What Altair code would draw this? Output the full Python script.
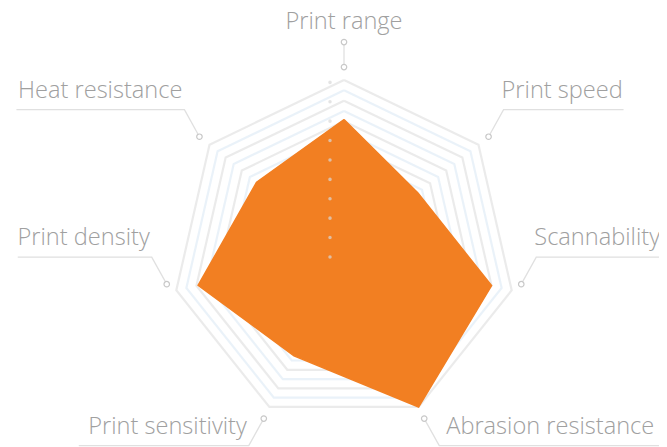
import numpy as np
import pandas as pd
import altair as alt

# ---- data ----
categories = ["Print range", "Print speed", "Scannability", "Abrasion resistance",
              "Print sensitivity", "Print density", "Heat resistance"]
scores = [7.7, 5.5, 8.8, 10.0, 6.7, 8.7, 6.5]
max_score = 10.0
ring_levels = [10.0, 9.4, 8.8, 8.2, 7.6, 7.0, 6.4, 5.8, 5.2, 4.6]

# ---- layout ----
W, H = 651, 439
U = 172.0            # pixels per unit radius
CX, CY = 336.0, 244.0
P = 1.0 / U          # one pixel in data units
xdom = [-CX / U, (W - CX) / U]
ydom = [-(H - CY) / U, CY / U]

ORANGE = "#f27f22"
TEXT = "#a0a0a0"
LEADER = "#e0e0e0"

n = len(categories)
ang = np.deg2rad(90 - np.arange(n) * 360.0 / n)
cosA, sinA = np.cos(ang), np.sin(ang)

# grid rings
rows = []
for k, lvl in enumerate(ring_levels):
    r = lvl / max_score
    for j in range(n + 1):
        rows.append({"ring": k, "grp": "g" if k % 2 == 0 else "b", "o": j,
                     "x": r * cosA[j % n], "y": r * sinA[j % n]})
rings = pd.DataFrame(rows)

# data polygon
poly = pd.DataFrame({
    "o": list(range(n + 1)),
    "x": [scores[j % n] / max_score * cosA[j % n] for j in range(n + 1)],
    "y": [scores[j % n] / max_score * sinA[j % n] for j in range(n + 1)],
})

# label leaders
underline_px = {"Print speed": 120, "Scannability": 140, "Abrasion resistance": 230,
                "Print sensitivity": 170, "Print density": 134, "Heat resistance": 168}
nudge_px = {"Print density": (3, 9), "Scannability": (-3, 9)}
text_gap_px = {"Abrasion resistance": 7}
leader_rows, dot_rows, text_rows = [], [], []
for i, cat in enumerate(categories):
    cx, cy = 1.075 * cosA[i], 1.075 * sinA[i]
    dx, dy = nudge_px.get(cat, (0, 0))
    cx += dx * P
    cy += dy * P
    dot_rows.append({"x": cx, "y": cy})
    if i == 0:
        tx, ty = cx, cy + 25 * P
        dot_rows.append({"x": tx, "y": ty})
        leader_rows += [{"lab": cat, "o": 0, "x": cx, "y": cy},
                        {"lab": cat, "o": 1, "x": tx, "y": ty}]
        text_rows.append({"lab": cat, "x": cx, "y": ty + 13 * P, "al": "center"})
        continue
    sx = 1 if cosA[i] > 0 else -1
    sy = 1 if sinA[i] > -0.5 else -1
    ex, ey = cx + sx * 15 * P, cy + sy * 27 * P
    fx = ex + sx * underline_px[cat] * P
    leader_rows += [{"lab": cat, "o": 0, "x": cx, "y": cy},
                    {"lab": cat, "o": 1, "x": ex, "y": ey},
                    {"lab": cat, "o": 2, "x": fx, "y": ey}]
    gap = text_gap_px.get(cat, -2 if sx > 0 else 2)
    text_rows.append({"lab": cat, "x": ex + sx * gap * P if sx < 0 else ex + gap * P,
                      "y": ey + 12 * P, "al": "left" if sx > 0 else "right"})
leaders = pd.DataFrame(leader_rows)
dots = pd.DataFrame(dot_rows)
texts = pd.DataFrame(text_rows)

axis_dots = pd.DataFrame({"x": [-14 * P], "y": [-5 * P], "y2": [1.0]})

X = alt.X("x:Q", scale=alt.Scale(domain=xdom, nice=False, zero=False), axis=None)
Y = alt.Y("y:Q", scale=alt.Scale(domain=ydom, nice=False, zero=False), axis=None)

ring_layer = alt.Chart(rings).mark_line(strokeWidth=2.2, opacity=0.85).encode(
    x=X, y=Y, detail="ring:N", order="o:Q",
    color=alt.Color("grp:N", scale=alt.Scale(domain=["g", "b"], range=["#e8e8e8", "#e6f0f8"]),
                    legend=None),
)

poly_layer = alt.Chart(poly).mark_line(fill=ORANGE, stroke=ORANGE, strokeWidth=1.5,
                                       fillOpacity=1).encode(x=X, y=Y, order="o:Q")

dots_axis = alt.Chart(axis_dots).mark_rule(color="#d8d8d8", opacity=0.7, strokeWidth=3.5,
                                          strokeCap="round", strokeDash=[0.1, 19.3]).encode(
    x=X, y=Y, y2="y2:Q")

leader_layer = alt.Chart(leaders).mark_line(color=LEADER, strokeWidth=1.3).encode(
    x=X, y=Y, detail="lab:N", order="o:Q")

dot_layer = alt.Chart(dots).mark_point(shape="circle", size=30, filled=False, fill="white",
                                       fillOpacity=1, stroke="#c8c8c8", strokeWidth=1.2,
                                       opacity=1).encode(x=X, y=Y)

def text_layer(al):
    return alt.Chart(texts[texts["al"] == al]).mark_text(
        align=al, baseline="alphabetic", font="Open Sans", fontWeight=300, fontSize=23.6,
        color=TEXT).encode(x=X, y=Y, text="lab:N")

chart = alt.layer(
    ring_layer, poly_layer, dots_axis, leader_layer, dot_layer,
    text_layer("left"), text_layer("right"), text_layer("center"),
).properties(width=W, height=H, padding=0, background="white",
             autosize=alt.AutoSizeParams(type="none")
).configure_view(stroke=None)

chart.save("out.html", embed_options={"renderer": "svg", "actions": False})
